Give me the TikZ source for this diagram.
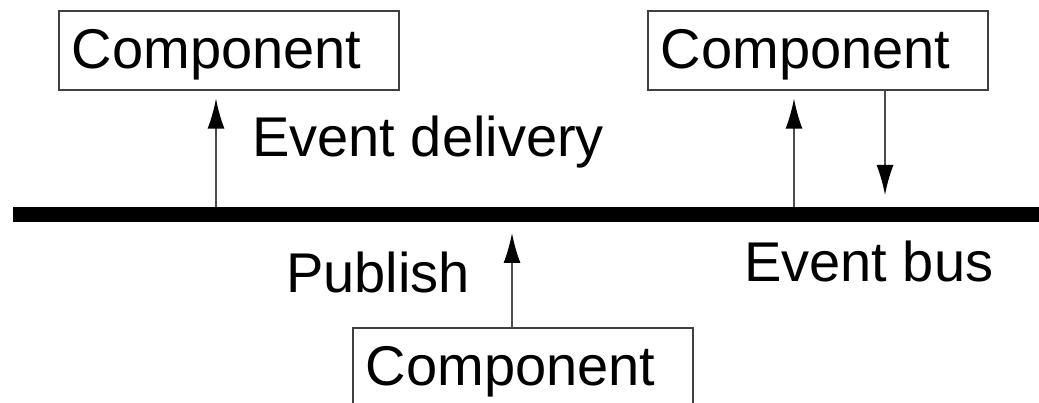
\documentclass[tikz,border=0pt]{standalone}
\usepackage{fontspec}
\setmainfont{Liberation Sans}
\usetikzlibrary{arrows.meta,calc}
\begin{document}
\begin{tikzpicture}[x=1pt,y=1pt,
  every node/.style={font=\fontsize{56}{60}\selectfont},
  compbox/.style={draw=black!75, line width=1.6pt, anchor=north west,
    inner xsep=13pt, inner ysep=0pt, text width=314pt, align=left,
    text height=58pt, text depth=21pt},
  label/.style={anchor=base west, inner sep=0pt},
  flow/.style={draw=black!70, line width=1.6pt,
    -{Latex[length=30pt,width=17pt,fill=black,color=black]}},
  busline/.style={line width=15pt, line cap=butt}]
\useasboundingbox (0,0) rectangle (1039,-403);
% components
\node[compbox] (c1) at (58,-10) {Component};
\node[compbox] (c2) at (647,-10) {Component};
\node[compbox] (c3) at (352,-327) {Component};
% the event bus
\coordinate (busL) at (13,-214.5);
\coordinate (busR) at (1039,-214.5);
\draw[busline] (busL) -- (busR);
% connection points on the bus
\coordinate (b1) at (216,-207);
\coordinate (b2) at (794,-207);
\coordinate (b3) at (885,-195);
\coordinate (b4) at (512,-233);
% arrows
\draw[flow] (b1) -- ($(b1 |- c1.south)+(0,-8)$);
\draw[flow] (b2) -- ($(b2 |- c2.south)+(0,-8)$);
\draw[flow] (b3 |- c2.south) -- (b3);
\draw[flow] (b4 |- c3.north) -- (b4);
% labels
\node[label] (ldel) at (252,-157) {Event delivery};
\node[label] (lpub) at (286,-293) {Publish};
\node[label] (lbus) at (744,-282) {Event bus};
\end{tikzpicture}
\end{document}
